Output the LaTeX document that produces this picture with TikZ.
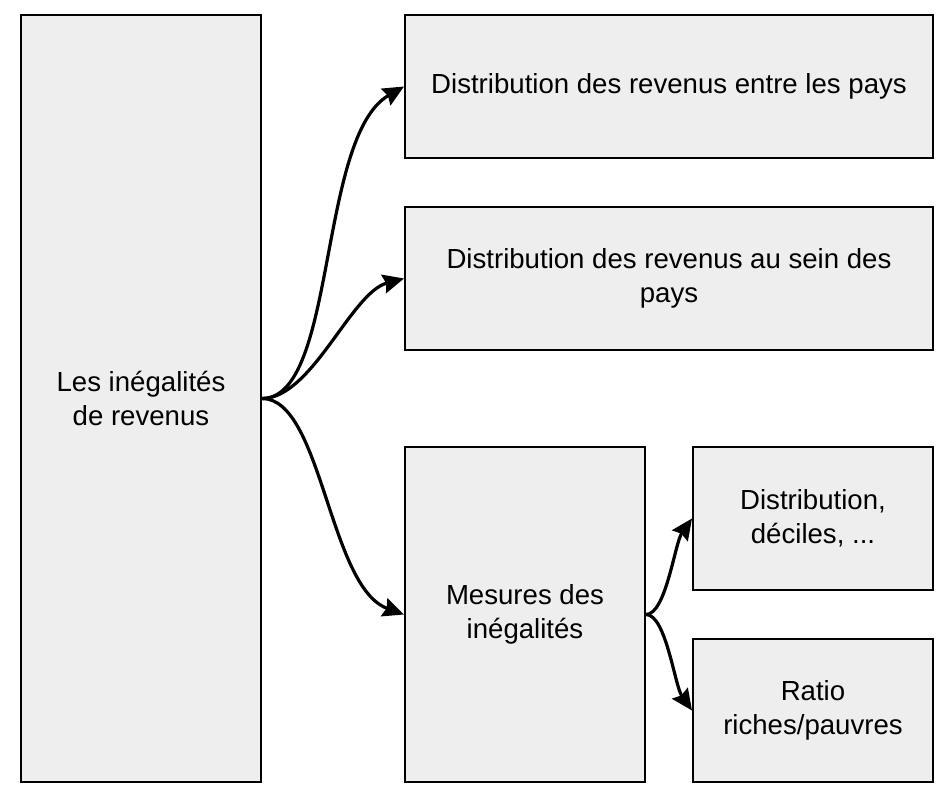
\documentclass[tikz,border=0pt]{standalone}
\usepackage{fontspec}
\setmainfont{Liberation Sans}
\usetikzlibrary{arrows.meta}
\definecolor{boxgray}{HTML}{EEEEEE}
\begin{document}
\begin{tikzpicture}[x=1pt,y=1pt,
  box/.style={draw=black, line width=2pt, fill=boxgray, inner sep=0pt, align=center,
    font=\fontsize{27.6}{34.5}\selectfont},
  conn/.style={line width=3.2pt, -{Stealth[length=21pt,width=19pt,inset=2.5pt]}}]
\useasboundingbox (0,0) rectangle (952,801);
\node[box, minimum width=240pt, minimum height=767pt] (L) at (141,402.5) {Les inégalités\\de revenus};
\node[box, minimum width=528pt, minimum height=143pt] (B1) at (669,714.5) {Distribution des revenus entre les pays};
\node[box, minimum width=528pt, minimum height=143pt] (B2) at (669,522.5) {Distribution des revenus au sein des\\pays};
\node[box, minimum width=240pt, minimum height=335pt] (B3) at (525,186.5) {Mesures des\\inégalités};
\node[box, minimum width=240pt, minimum height=143pt] (B4) at (813,282.5) {Distribution,\\déciles, ...};
\node[box, minimum width=240pt, minimum height=143pt] (B5) at (813,90.5) {Ratio\\riches/pauvres};
\draw[conn] (L.east) to[out=0,in=210,out distance=75pt,in distance=100pt] (B1.west);
\draw[conn] (L.east) to[out=0,in=195,out distance=50pt,in distance=55pt] (B2.west);
\draw[conn] (L.east) to[out=0,in=160,out distance=60pt,in distance=80pt] (B3.west);
\draw[conn] (B3.east) to[out=0,in=235,out distance=20pt,in distance=30pt] (B4.west);
\draw[conn] (B3.east) to[out=0,in=125,out distance=20pt,in distance=30pt] (B5.west);
\end{tikzpicture}
\end{document}
